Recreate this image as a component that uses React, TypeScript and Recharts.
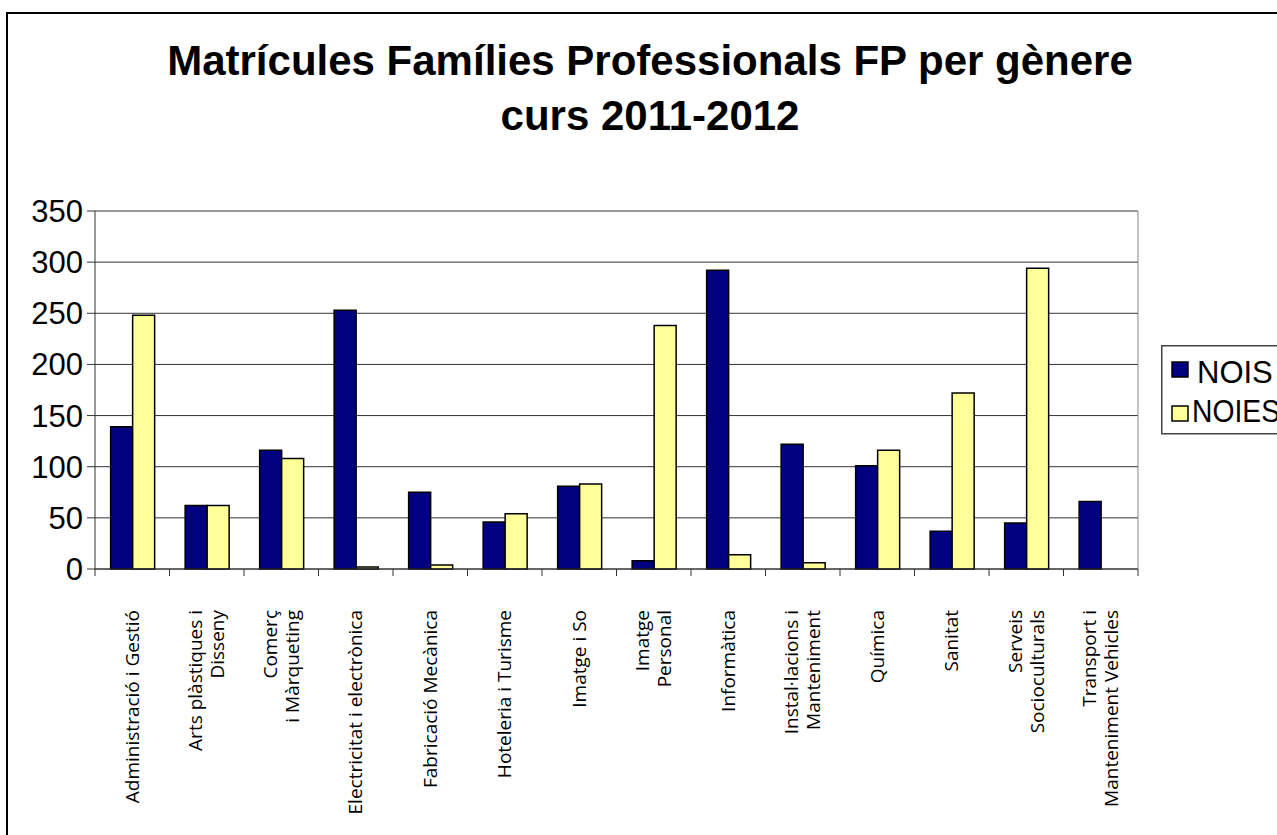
import { BarChart, Bar, XAxis, YAxis, CartesianGrid, Legend } from "recharts";

// famílies professionals (el \n marca el salt de línia de l'etiqueta)
const FAMILIES = [
  "Administració i Gestió",
  "Arts plàstiques i\nDisseny",
  "Comerç\ni Màrqueting",
  "Electricitat i electrònica",
  "Fabricació Mecànica",
  "Hoteleria i Turisme",
  "Imatge i So",
  "Imatge\nPersonal",
  "Informàtica",
  "Instal·lacions i\nManteniment",
  "Química",
  "Sanitat",
  "Serveis\nSocioculturals",
  "Transport i\nManteniment Vehicles",
];
const NOIS = [139, 62, 116, 253, 75, 46, 81, 8, 292, 122, 101, 37, 45, 66];
const NOIES = [248, 62, 108, 2, 4, 54, 83, 238, 14, 6, 116, 172, 294, 0];
const Y_TICKS = [0, 50, 100, 150, 200, 250, 300, 350];
const SERIES_ORDER = ["NOIS", "NOIES"];

const W = 1277;
const H = 835;
const MARGIN = { top: 211, right: 138, bottom: 16, left: 0 };
const Y_AXIS_W = 95;
const PLOT_W = W - MARGIN.left - MARGIN.right - Y_AXIS_W - 1;
const BAND = PLOT_W / FAMILIES.length;

const data = FAMILIES.map((f, i) => ({ familia: f, nois: NOIS[i], noies: NOIES[i] }));

const LABEL_FONT = 19;
const LABEL_LINE = 22;

function FamilyTick(props: any) {
  const { x, y, payload, index } = props;
  const lines = String(payload.value).split("\n");
  const ay = y + 41;
  const n = lines.length;
  return (
    <g>
      <line x1={x - BAND / 2} x2={x - BAND / 2} y1={y} y2={y + 7} stroke="#333" />
      {index === FAMILIES.length - 1 && (
        <line x1={x + BAND / 2} x2={x + BAND / 2} y1={y} y2={y + 7} stroke="#333" />
      )}
      <text
        transform={`rotate(-90, ${x}, ${ay})`}
        textAnchor="end"
        fontFamily="'Open Sans', sans-serif"
        fontSize={LABEL_FONT}
        fill="#000"
      >
        {lines.map((l, i) => (
          <tspan key={i} x={x} y={ay + (i - (n - 1) / 2) * LABEL_LINE + LABEL_FONT * 0.35}>
            {l}
          </tspan>
        ))}
      </text>
    </g>
  );
}

// llegenda en caixa, NOIS a dalt i NOIES a sota
function LegendBox({ payload }: any) {
  const items = [...(payload ?? [])].sort(
    (a: any, b: any) => SERIES_ORDER.indexOf(a.value) - SERIES_ORDER.indexOf(b.value)
  );
  return (
    <svg width={140} height={90} style={{ display: "block" }}>
      <rect x={0.75} y={0.75} width={150} height={88} fill="#fff" stroke="#444" strokeWidth={1.5} />
      {items.map((it: any, i: number) => (
        <g key={it.value}>
          <rect
            x={11}
            y={i === 0 ? 17 : 61}
            width={16}
            height={15}
            fill={it.color}
            stroke="#000"
            strokeWidth={1.5}
          />
          <text
            x={i === 0 ? 36 : 31}
            y={i === 0 ? 38 : 77}
            fontFamily="'Liberation Sans', Arial, sans-serif"
            fontSize={31}
            fill="#000"
            {...(i === 1 ? { textLength: 88, lengthAdjust: "spacingAndGlyphs" } : {})}
          >
            {it.value}
          </text>
        </g>
      ))}
    </svg>
  );
}

export default function App() {
  return (
    <div style={{ position: "fixed", left: 0, top: 0, width: W, height: H, overflow: "hidden", background: "#fff" }}>
      <svg width={W} height={H} style={{ position: "absolute", left: 0, top: 0 }}>
        <rect x={7} y={13} width={1400} height={1000} fill="none" stroke="#000" strokeWidth={2} />
        <text
          x={650}
          y={75}
          textAnchor="middle"
          fontFamily="'Liberation Sans', Arial, sans-serif"
          fontWeight="bold"
          fontSize={42}
        >
          Matrícules Famílies Professionals FP per gènere
        </text>
        <text
          x={650}
          y={130}
          textAnchor="middle"
          fontFamily="'Liberation Sans', Arial, sans-serif"
          fontWeight="bold"
          fontSize={42}
        >
          curs 2011-2012
        </text>
      </svg>
      <div style={{ position: "absolute", left: 0, top: 0 }}>
        <BarChart
          width={W}
          height={H}
          data={data}
          margin={MARGIN}
          barCategoryGap="21%"
          barGap={0}
        >
          <CartesianGrid vertical={false} stroke="#333" strokeWidth={1} />
          <XAxis
            dataKey="familia"
            interval={0}
            height={250}
            tick={<FamilyTick />}
            tickLine={false}
            tickSize={0}
            tickMargin={0}
            axisLine={{ stroke: "#333" }}
          />
          <YAxis
            domain={[0, 350]}
            ticks={Y_TICKS}
            width={Y_AXIS_W}
            tickSize={8}
            tickMargin={4}
            axisLine={{ stroke: "#333" }}
            tickLine={{ stroke: "#333" }}
            tick={{ fill: "#000", fontSize: 31, fontFamily: "'Liberation Sans', Arial, sans-serif" }}
          />
          <YAxis
            yAxisId="border"
            orientation="right"
            width={1}
            tick={false}
            tickLine={false}
            axisLine={{ stroke: "#888" }}
          />
          <Legend
            layout="vertical"
            align="center"
            verticalAlign="middle"
            content={<LegendBox />}
            wrapperStyle={{ left: 1161, top: 345, width: 140, height: 90 }}
          />
          <Bar dataKey="nois" name="NOIS" fill="#000080" stroke="#000" strokeWidth={1.5} isAnimationActive={false} />
          <Bar dataKey="noies" name="NOIES" fill="#FFFF99" stroke="#000" strokeWidth={1.5} isAnimationActive={false} />
        </BarChart>
      </div>
    </div>
  );
}
